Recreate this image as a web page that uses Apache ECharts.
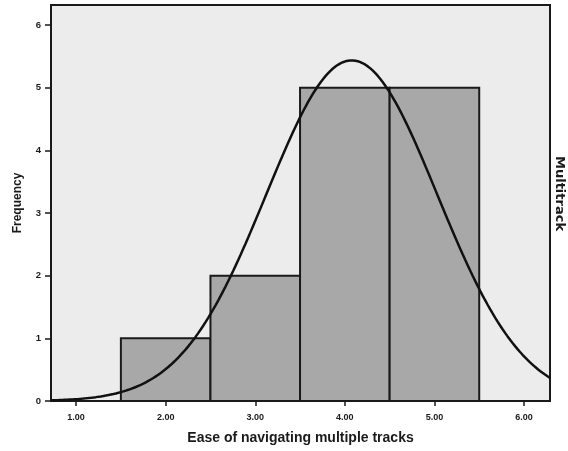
<!DOCTYPE html>
<html>
<head>
<meta charset="utf-8">
<script src="https://cdn.jsdelivr.net/npm/echarts@6/dist/echarts.min.js"></script>
<style>
  html, body { margin: 0; padding: 0; background: #fff; }
  #chart { width: 568px; height: 451px; }
</style>
</head>
<body>
<div id="chart"></div>
<script>
// Histogram bins (score ranges) and their counts
const binStarts = [1.5, 2.5, 3.5, 4.5];
const binEnds   = [2.5, 3.5, 4.5, 5.5];
const binCenters = [2, 3, 4, 5];
const frequencies = [1, 2, 5, 5];

// Axis tick values
const xTicks = [1, 2, 3, 4, 5, 6];
const yTicks = [0, 1, 2, 3, 4, 5, 6];

// Fitted normal curve from the binned scores
const n = frequencies.reduce((a, b) => a + b, 0);
const mean = binCenters.reduce((s, v, i) => s + v * frequencies[i], 0) / n;
const variance = binCenters.reduce((s, v, i) => s + frequencies[i] * (v - mean) ** 2, 0) / (n - 1);
const sd = Math.sqrt(variance);
const binWidth = 1;
const xMin = 0.72, xMax = 6.29;
const curve = [];
for (let k = 0; k <= 200; k++) {
  const x = xMin + (xMax - xMin) * k / 200;
  const y = n * binWidth / (sd * Math.sqrt(2 * Math.PI)) * Math.exp(-0.5 * ((x - mean) / sd) ** 2);
  curve.push([x, y]);
}

const bars = binStarts.map((s, i) => [s, binEnds[i], frequencies[i]]);

const font = 'Liberation Sans, Arial, sans-serif';
const chart = echarts.init(document.getElementById('chart'), null, { renderer: 'canvas' });
chart.setOption({
  animation: false,
  grid: {
    left: 51, right: 18, top: 5, bottom: 50,
    show: true, backgroundColor: '#ececec', borderColor: '#1a1a1a', borderWidth: 2
  },
  xAxis: {
    type: 'value', min: xMin, max: xMax,
    name: 'Ease of navigating multiple tracks', nameLocation: 'middle', nameGap: 30,
    nameTextStyle: { fontFamily: font, fontWeight: 'bold', fontSize: 14, color: '#1a1a1a' },
    axisLine: { show: true, onZero: false, lineStyle: { color: '#1a1a1a', width: 2 } },
    axisTick: { show: true, customValues: xTicks, length: 5, lineStyle: { color: '#1a1a1a', width: 1.5 } },
    axisLabel: {
      customValues: xTicks, margin: 12,
      formatter: v => v.toFixed(2),
      fontFamily: font, fontWeight: 'bold', fontSize: 9, color: '#1a1a1a'
    },
    splitLine: { show: false }
  },
  yAxis: {
    type: 'value', min: 0, max: 6.32,
    name: 'Frequency', nameLocation: 'middle', nameGap: 27,
    nameTextStyle: { fontFamily: font, fontWeight: 'bold', fontSize: 12, color: '#1a1a1a' },
    axisLine: { show: true, lineStyle: { color: '#1a1a1a', width: 2 } },
    axisTick: { show: true, customValues: yTicks, length: 6, lineStyle: { color: '#1a1a1a', width: 1.5 } },
    axisLabel: {
      customValues: yTicks, margin: 10,
      fontFamily: font, fontWeight: 'bold', fontSize: 9.5, color: '#1a1a1a'
    },
    splitLine: { show: false }
  },
  graphic: [{
    type: 'text', rotation: -Math.PI / 2, x: 566, y: 156,
    style: {
      text: 'Multitrack', font: 'bold 13px DejaVu Sans, sans-serif',
      fill: '#1a1a1a', letterSpacing: 2.5
    }
  }],
  series: [{
    type: 'custom',
    data: bars,
    encode: { x: [0, 1], y: 2 },
    renderItem: (params, api) => {
      const p0 = api.coord([api.value(0), api.value(2)]);
      const p1 = api.coord([api.value(1), 0]);
      return {
        type: 'rect',
        shape: { x: p0[0], y: p0[1], width: p1[0] - p0[0], height: p1[1] - p0[1] },
        style: { fill: '#a8a8a8', stroke: '#1a1a1a', lineWidth: 2 }
      };
    },
    z: 2
  }, {
    type: 'line',
    data: curve,
    showSymbol: false,
    smooth: false,
    clip: true,
    lineStyle: { color: '#111', width: 2.5 },
    z: 3
  }]
});
</script>
</body>
</html>
